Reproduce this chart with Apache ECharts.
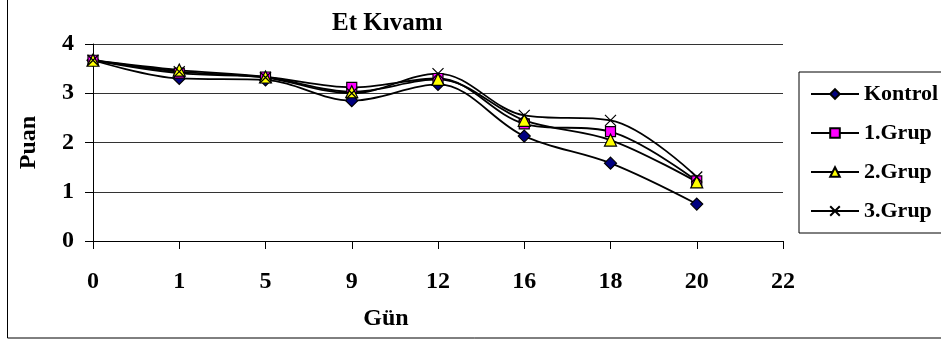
<!DOCTYPE html>
<html>
<head>
<meta charset="utf-8">
<script src="https://cdn.jsdelivr.net/npm/echarts@6/dist/echarts.min.js"></script>
<style>
  html, body { margin: 0; padding: 0; background: #fff; }
  #chart { width: 941px; height: 341px; }
</style>
</head>
<body>
<div id="chart"></div>
<script>
// Days of measurement (x axis categories)
const days = ['0', '1', '5', '9', '12', '16', '18', '20', '22'];
// Texture scores per group
const kontrol = [3.67, 3.30, 3.27, 2.85, 3.18, 2.13, 1.58, 0.75];
const grup1   = [3.67, 3.41, 3.33, 3.12, 3.30, 2.38, 2.22, 1.22];
const grup2   = [3.67, 3.47, 3.33, 3.03, 3.28, 2.45, 2.05, 1.20];
const grup3   = [3.67, 3.44, 3.32, 3.00, 3.40, 2.55, 2.45, 1.30];
const yTicks  = [0, 1, 2, 3, 4];

const FONT = '"Liberation Serif", "Times New Roman", serif';
const crossPath = 'path://M0,0L10,10M10,0L0,10';

function lineSeries(name, data, symbol, size, fill) {
  return {
    name: name,
    type: 'line',
    data: data,
    smooth: 0.35,
    symbol: symbol,
    symbolSize: size,
    showAllSymbol: true,
    lineStyle: { color: '#000', width: 1.8 },
    itemStyle: { color: fill, borderColor: '#000', borderWidth: 1.2 },
    z: 2
  };
}

const chart = echarts.init(document.getElementById('chart'), null, { renderer: 'canvas' });
chart.setOption({
  animation: false,
  backgroundColor: '#fff',
  title: {
    text: 'Et Kıvamı',
    left: 327,
    top: 6,
    textStyle: { fontFamily: FONT, fontWeight: 'bold', fontSize: 25, color: '#000' }
  },
  grid: { left: 93, right: 158, top: 44, bottom: 100 },
  legend: {
    orient: 'vertical',
    left: 799,
    top: 72,
    padding: [11, 40, 11, 11],
    itemGap: 17,
    itemWidth: 48,
    itemHeight: 12,
    borderColor: '#000',
    borderWidth: 1,
    data: ['Kontrol', '1.Grup', '2.Grup', '3.Grup'],
    textStyle: { fontFamily: FONT, fontWeight: 'bold', fontSize: 22, color: '#000' }
  },
  xAxis: {
    type: 'category',
    data: days,
    boundaryGap: false,
    name: 'Gün',
    nameLocation: 'middle',
    nameGap: 66,
    nameTextStyle: { fontFamily: FONT, fontWeight: 'bold', fontSize: 24, color: '#000', padding: [0, 104, 0, 0] },
    axisLine: { lineStyle: { color: '#000', width: 1 } },
    axisTick: { show: true, length: 8, lineStyle: { color: '#000' } },
    axisLabel: { margin: 29, fontFamily: FONT, fontWeight: 'bold', fontSize: 24, color: '#000' },
    splitLine: { show: false }
  },
  yAxis: {
    type: 'value',
    min: yTicks[0],
    max: yTicks[yTicks.length - 1],
    interval: 1,
    name: 'Puan',
    nameLocation: 'middle',
    nameGap: 52,
    nameTextStyle: { fontFamily: FONT, fontWeight: 'bold', fontSize: 24, color: '#000' },
    axisLine: { show: true, lineStyle: { color: '#000', width: 1 } },
    axisTick: { show: true, length: 8, lineStyle: { color: '#000' } },
    axisLabel: { margin: 19, fontFamily: FONT, fontWeight: 'bold', fontSize: 24, color: '#000' },
    splitLine: { show: true, lineStyle: { color: '#333', width: 1 } }
  },
  graphic: [{
    type: 'rect',
    shape: { x: 7.5, y: -5, width: 945, height: 343 },
    style: { fill: 'none', stroke: '#000', lineWidth: 1 },
    silent: true,
    z: -1
  }],
  series: [
    lineSeries('Kontrol', kontrol, 'diamond', 12, '#000080'),
    lineSeries('1.Grup', grup1, 'rect', 10, '#ff00ff'),
    lineSeries('2.Grup', grup2, 'triangle', 12, '#ffff00'),
    lineSeries('3.Grup', grup3, crossPath, 11, 'none')
  ]
});
</script>
</body>
</html>
